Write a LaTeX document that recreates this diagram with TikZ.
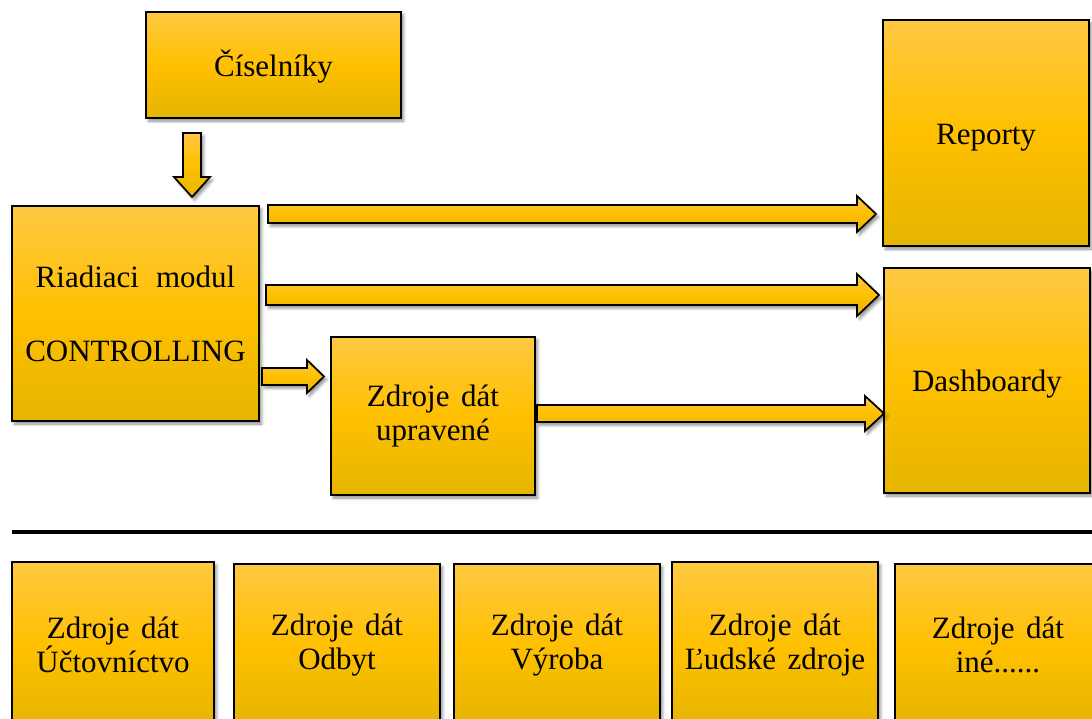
\documentclass[tikz,border=0pt]{standalone}
\usepackage{fontspec}
\setmainfont{Liberation Serif}[WordSpace=1.5]
\usetikzlibrary{calc,shadows.blur}

\definecolor{goldtop}{RGB}{255,201,66}
\definecolor{goldmid}{RGB}{255,192,0}
\definecolor{goldbot}{RGB}{229,181,0}

\tikzset{
  softshadow/.style={blur shadow={shadow xshift=2.5pt,shadow yshift=-3pt,
      shadow blur radius=3pt,shadow opacity=45}},
  goldfill/.style={top color=goldtop,bottom color=goldbot,middle color=goldmid},
  box/.style={rectangle,draw=black,line width=1.7pt,goldfill,softshadow,
      inner sep=0pt,align=center,font=\fontsize{31pt}{34pt}\selectfont},
  oneline/.style={text height=29pt,text depth=7pt},
  barrow/.style={draw=black,line width=1.7pt,line join=miter,goldfill,softshadow},
}

% block arrow pointing right: start, tip, shaft half-width, head half-width, head length
\newcommand\blockright[5]{%
  \path[barrow] let \p1=(#1), \p2=(#2) in
    (\x1,\y1+#3) -- (\x2-#5,\y1+#3) -- (\x2-#5,\y1+#4) -- (\x2,\y1)
    -- (\x2-#5,\y1-#4) -- (\x2-#5,\y1-#3) -- (\x1,\y1-#3) -- cycle;}
% block arrow pointing down: start, tip, shaft half-width, head half-width, head length
\newcommand\blockdown[5]{%
  \path[barrow] let \p1=(#1), \p2=(#2) in
    (\x1-#3,\y1) -- (\x1-#3,\y2+#5) -- (\x1-#4,\y2+#5) -- (\x1,\y2)
    -- (\x1+#4,\y2+#5) -- (\x1+#3,\y2+#5) -- (\x1+#3,\y1) -- cycle;}

\begin{document}
\begin{tikzpicture}[x=1pt,y=-1pt]
\useasboundingbox (0,0) rectangle (1092,718);
\clip (0,0) rectangle (1092,718);

% upper part: control module and its outputs
\node[box,oneline,minimum width=255pt,minimum height=106pt] (cis) at (273.5,65) {Číselníky};
\node[box,minimum width=247pt,minimum height=215pt] (riad) at (135.5,313.5)
  {Riadiaci\hspace{17pt}modul\\[40pt]CONTROLLING};
\node[box,oneline,minimum width=206pt,minimum height=226pt] (rep) at (986,133) {Reporty};
\node[box,oneline,minimum width=206pt,minimum height=225pt] (dash) at (987,380.5) {Dashboardy};
\node[box,minimum width=204pt,minimum height=158pt] (upr) at (433,416)
  {Zdroje dát\\upravené};

% arrow end points
\coordinate (d1s) at (192,133);   \coordinate (d1e) at (192,197);
\coordinate (a1s) at (268,214);   \coordinate (a1e) at (876,214);
\coordinate (a2s) at (266,295);   \coordinate (a2e) at (879,295);
\coordinate (a3s) at (262,376.5); \coordinate (a3e) at (324,376.5);
\coordinate (a4s) at (537,413.5); \coordinate (a4e) at (884,413.5);

\blockdown{d1s}{d1e}{9pt}{18pt}{20pt}
\blockright{a1s}{a1e}{9pt}{18pt}{19pt}
\blockright{a2s}{a2e}{10pt}{21pt}{22pt}
\blockright{a3s}{a3e}{8.5pt}{16.5pt}{17pt}
\blockright{a4s}{a4e}{8.5pt}{17.5pt}{19pt}

% separator
\coordinate (sepL) at (12,531.5);
\coordinate (sepR) at (1092,531.5);
\draw[line width=4pt] (sepL) -- (sepR);

% data sources
\node[box,minimum width=202pt,minimum height=166pt] (b1) at (113,645) {Zdroje dát\\Účtovníctvo};
\node[box,minimum width=206pt,minimum height=162pt] (b2) at (337,645) {Zdroje dát\\Odbyt};
\node[box,minimum width=206pt,minimum height=162pt] (b3) at (557,645) {Zdroje dát\\Výroba};
\node[box,minimum width=206pt,minimum height=166pt] (b4) at (775,645) {Zdroje dát\\Ľudské zdroje};
\node[box,minimum width=206pt,minimum height=162pt] (b5) at (998,645) {Zdroje dát\\iné......};
\end{tikzpicture}
\end{document}
